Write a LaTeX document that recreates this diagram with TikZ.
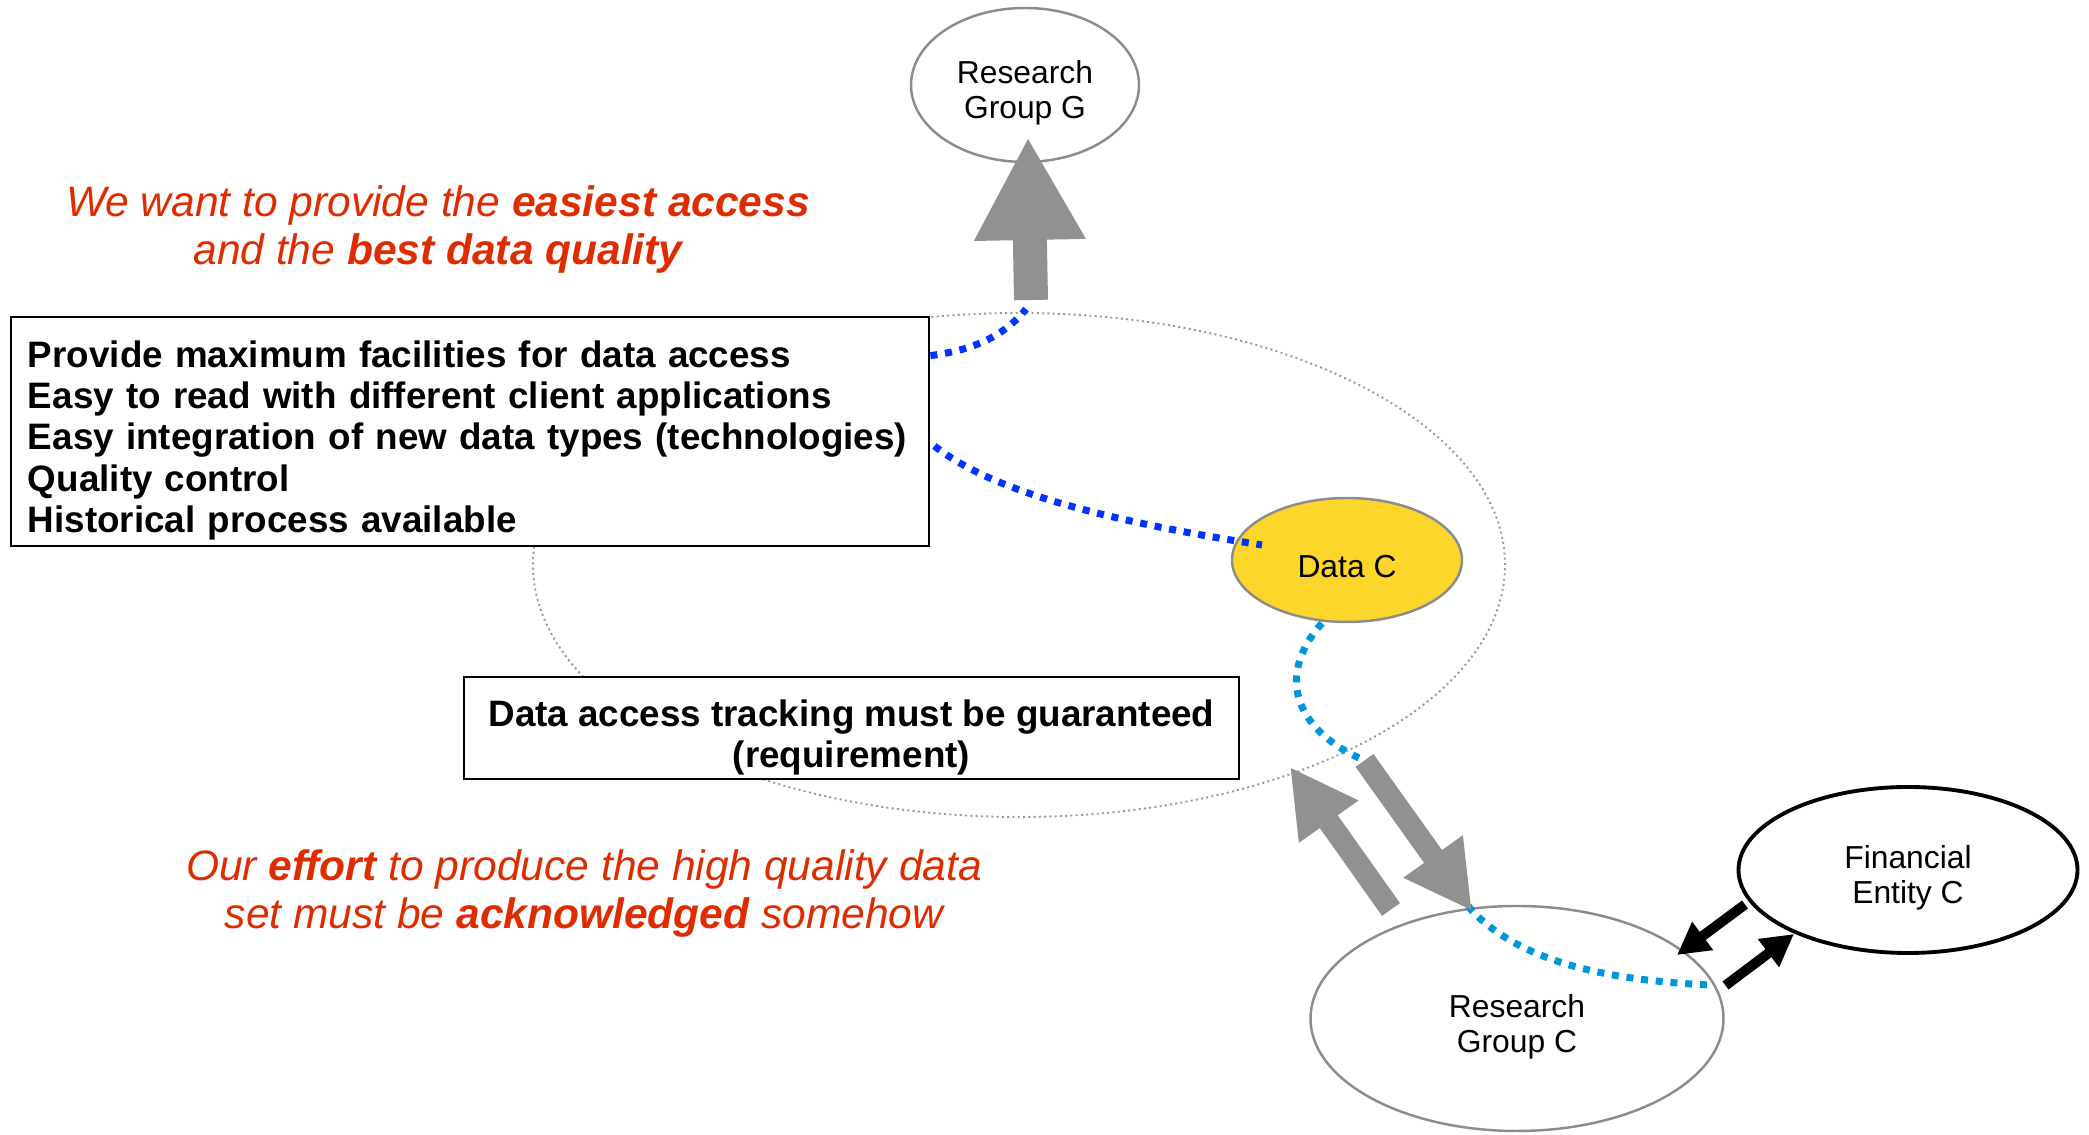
\documentclass[tikz,border=0pt]{standalone}
\usepackage{fontspec}
\setmainfont{Liberation Sans}
\usetikzlibrary{shapes.geometric,arrows.meta}
\definecolor{redtext}{RGB}{222,44,0}
\definecolor{darkblue}{RGB}{0,51,255}
\definecolor{lightblue}{RGB}{0,150,220}
\definecolor{arrowgray}{RGB}{145,145,145}
\definecolor{nodegray}{RGB}{140,140,140}
\definecolor{datayellow}{RGB}{253,214,43}
\tikzset{
  group/.style={ellipse, draw=nodegray, line width=0.7pt, inner sep=0pt, align=center,
    text height=21pt, font=\fontsize{9.05}{9.85}\selectfont},
  textbox/.style={draw, line width=0.8pt, fill=white, inner ysep=0pt,
    font=\bfseries\fontsize{10.47}{11.75}\selectfont},
  note/.style={text=redtext, align=center, font=\itshape\fontsize{12.1}{13.66}\selectfont},
  ringline/.style={draw=nodegray!90, line width=0.55pt, dash pattern=on 0.55pt off 0.95pt},
  bluedots/.style={line width=2pt, dash pattern=on 2pt off 2.2pt},
  bigarrow/.style={draw=arrowgray, line width=6.26pt, -{Triangle[width=19.35pt,length=19.06pt]}},
  smallarrow/.style={draw=black, line width=2.85pt, -{Triangle[width=9.4pt,length=9.1pt]}}
}
\begin{document}
\begin{tikzpicture}
\useasboundingbox (0,0) rectangle (20.89,11.35);
\draw[ringline] (10.19,5.70) ellipse (4.86 and 2.52);

\node[group, minimum width=2.28cm, minimum height=1.54cm] (groupG) at (10.25,10.50) {Research\\Group G};
\node[group, fill=datayellow, text height=10pt, minimum width=2.30cm, minimum height=1.24cm] (dataC) at (13.47,5.75) {Data C};
\node[group, minimum width=4.13cm, minimum height=2.25cm] (groupC) at (15.17,1.165) {Research\\Group C};
\node[group, draw=black, line width=1.1pt, minimum width=3.39cm, minimum height=1.66cm] (financeC) at (19.08,2.65) {Financial\\Entity C};

\node[textbox, align=left, text height=12.7pt, text width=8.84cm, inner xsep=0.17cm, minimum height=2.29cm] (goals) at (4.70,7.035)
  {Provide maximum facilities for data access\\Easy to read with different client applications\\Easy integration of new data types (technologies)\\Quality control\\Historical process available};
\node[textbox, align=center, text height=24.6pt, minimum width=7.75cm, minimum height=1.02cm] (tracking) at (8.515,4.07)
  {Data access tracking must be guaranteed\\(requirement)};

\node[note] (easiest) at (4.38,9.05) {We want to provide the \textbf{easiest access}\\and the \textbf{best data quality}};
\node[note] (effort) at (5.84,2.41) {Our \textbf{effort} to produce the high quality data\\set must be \textbf{acknowledged} somehow};

\coordinate (shaftG) at (10.31,8.35);
\coordinate (tipG) at (10.28,9.98);
\coordinate (gLink) at (10.26,8.26);
\coordinate (upTail) at (13.91,2.255);
\coordinate (upTip) at (12.90,3.68);
\coordinate (downTail) at (13.645,3.745);
\coordinate (downTip) at (14.72,2.24);
\coordinate (cLink) at (17.10,1.50);
\coordinate (toC) at (16.77,1.80);
\coordinate (fromC) at (17.255,1.495);
\coordinate (toF) at (17.94,2.01);
\coordinate (fromF) at (17.45,2.305);

\draw[bluedots, darkblue] ([yshift=-4mm]goals.north east) .. controls (9.75,7.85) and (10.05,8.00) .. (gLink);
\draw[bluedots, darkblue] ([xshift=0.4mm,yshift=-1.45mm]goals.east) .. controls (9.90,6.45) and (11.00,6.15) .. ([xshift=-8.5mm,yshift=1.5mm]dataC.center);
\draw[bluedots, lightblue] ([xshift=-2.5mm]dataC.south) .. controls (12.78,4.63) and (12.90,4.07) .. (downTail)
  -- (downTip) .. controls (15.20,1.75) and (16.00,1.55) .. (cLink);

\draw[bigarrow, line width=9.67pt, -{Triangle[width=29.6pt,length=29.3pt]}] (shaftG) -- (tipG);
\draw[bigarrow] (upTail) -- (upTip);
\draw[bigarrow] (downTail) -- (downTip);
\draw[smallarrow] (fromF) -- (toC);
\draw[smallarrow] (fromC) -- (toF);
\end{tikzpicture}
\end{document}
